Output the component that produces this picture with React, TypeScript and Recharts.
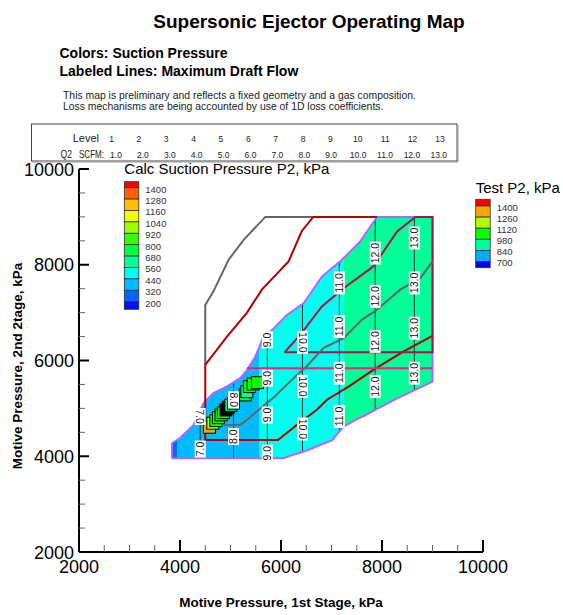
import React from "react";
import { ComposedChart, XAxis, YAxis, Area, Line, Scatter } from "recharts";

const FONT = "'Liberation Sans', Arial, Helvetica, sans-serif";

// operating region: lower / upper edge of the map at each 1st stage pressure
const regionX = [3840, 3940, 4000, 4265, 4465, 4660, 4925, 5190, 5325, 5490, 5565, 5650, 5790, 6050, 6120, 6450, 6510, 6810, 7010, 7175, 7240, 7570, 7640, 7900, 8300, 9000];
const regionLow = [3960, 3960, 3960, 3960, 3960, 3960, 3960, 3960, 3960, 3960, 3960, 3960, 3960, 3960, 3990, 4100, 4120, 4250, 4330, 4540, 4620, 4810, 4840, 4990, 5210, 5560];
const regionHigh = [4270, 4340, 4380, 4650, 5110, 5320, 5455, 5630, 5800, 6080, 6270, 6500, 6600, 6880, 6950, 7200, 7290, 7750, 7930, 8070, 8140, 8490, 8600, 9000, 9000, 9000];

// calc suction pressure bands (kPa) between these x edges
const bandEdges = [3840, 3940, 5565, 7240, 9000];
const bandP2 = [260, 380, 500, 620];

// maximum draft flow contour lines (Q2, SCFM)
const flowLevels = [7, 8, 9, 10, 11, 12, 13];
const flowX = [4400, 5060, 5730, 6425, 7155, 7865, 8640];
const flowLow = [3960, 3960, 3960, 4090, 4515, 4970, 5380];
const flowHigh = [4960, 5540, 6557, 7180, 8050, 8945, 9000];
const flowLabelY = [
  [4830, 4150],
  [5180, 4410],
  [6430, 5630, 4860, 4065],
  [6380, 5460, 4570],
  [7620, 6710, 5735, 4830],
  [8245, 7340, 6400, 5455],
  [8560, 7620, 6675, 5735],
];

// other contour lines
const grayOutlineX = [6640, 5690, 5260, 4960, 4660, 4500, 4500];
const grayOutlineY = [9000, 9000, 8520, 8100, 7440, 7160, 5910];
const redLineX = [7900, 6640, 6410, 6150, 5620, 5320, 4930, 4500, 4500, 5940, 6315, 6710, 6910, 7340, 7830, 8430, 9000];
const redLineY = [9000, 9000, 8700, 8070, 7480, 6990, 6500, 5910, 4340, 4340, 4655, 4970, 5180, 5455, 5805, 6190, 6515];
const crimsonX = [6070, 6380, 6810, 7240, 7830, 8300, 8660, 9000, 9000, 6070];
const crimsonY = [6170, 6535, 7130, 7510, 7965, 8695, 9000, 9000, 6170, 6170];
const pinkX = [5325, 9000];
const pinkY = [5840, 5840];
const grayWavyX = [4860, 5190, 5370, 5600, 5860, 6100, 6300, 6500, 6840, 7240, 7600, 7900, 8360, 8760, 9000];
const grayWavyY = [4655, 4655, 4800, 5010, 5230, 5480, 5680, 5870, 6260, 6465, 6850, 7060, 7480, 7720, 8070];

// test points
const testX = [4583, 4650, 4709, 4761, 4814, 4860, 4908, 4959, 5007, 5058, 5290, 5324, 5375, 5450, 5534];
const testY = [4606, 4690, 4744, 4807, 4863, 4911, 4968, 5024, 5066, 5108, 5281, 5350, 5455, 5511, 5538];
const testP2 = [1320, 1190, 1050, 1050, 1050, 1050, null, null, 910, 910, 1050, 910, 1050, 1050, 1050];

// legends
const calcLevels = [200, 320, 440, 560, 680, 800, 920, 1040, 1160, 1280, 1400];
const calcColors = ["#0010FF", "#0066FF", "#00BBFF", "#00FFEE", "#00FF99", "#00FF3C", "#33FF00", "#99FF00", "#EEFF00", "#FFBF00", "#FF6000", "#FF0000"];
const testLevels = [700, 840, 980, 1120, 1260, 1400];
const testColors = ["#0000FF", "#00AAFF", "#00FFA5", "#00FF00", "#B0FF00", "#FFA500", "#FF0000"];

// level table
const tableLevels = [1, 2, 3, 4, 5, 6, 7, 8, 9, 10, 11, 12, 13];
const tableQ2 = [1.0, 2.0, 3.0, 4.0, 5.0, 6.0, 7.0, 8.0, 9.0, 10.0, 11.0, 12.0, 13.0];

const axisTicks = [2000, 2500, 3000, 3500, 4000, 4500, 5000, 5500, 6000, 6500, 7000, 7500, 8000, 8500, 9000, 9500, 10000];

function levelColor(v: number | null, levels: number[], colors: string[]) {
  if (v === null) return "#000";
  let i = 0;
  while (i < levels.length && v >= levels[i]) i++;
  return colors[i];
}

const pts = (xs: number[], ys: number[]) => xs.map((x, i) => ({ x, y: ys[i] }));

const bands = bandP2.map((p, i) => ({
  color: levelColor(p, calcLevels, calcColors),
  data: regionX
    .map((x, j) => ({ x, range: [regionLow[j], regionHigh[j]] }))
    .filter((d) => d.x >= bandEdges[i] && d.x <= bandEdges[i + 1]),
}));

const outline = [
  ...regionX.map((x, j) => ({ x, y: regionLow[j] })),
  ...regionX.map((x, j) => ({ x, y: regionHigh[j] })).reverse(),
];
outline.push(outline[0]);

const testData = testX.map((x, i) => ({ x, y: testY[i], p2: testP2[i] }));

// labels drawn reading top-down (+90) or bottom-up (-90)
const upLabels = new Set(["7-0", "8-0", "10-0", "10-1", "10-2"]);
const labelData = flowLevels.flatMap((lv, i) =>
  flowLabelY[i].map((y, k) => ({
    x: flowX[i],
    y,
    text: lv.toFixed(1),
    rot: upLabels.has(`${lv}-${k}`) ? 90 : -90,
  }))
);

const XTick = (props: any) => {
  const { x, y, payload } = props;
  const major = payload.value % 2000 === 0;
  return (
    <g>
      <line x1={x} x2={x} y1={y} y2={y - (major ? 12 : 7)} stroke={major ? "#000" : "#666"} strokeWidth={major ? 2 : 1} />
      {major && (
        <text x={x} y={y + 20.5} textAnchor="middle" fontSize={18} fontFamily={FONT} fill="#000">
          {payload.value}
        </text>
      )}
    </g>
  );
};

const YTick = (props: any) => {
  const { x, y, payload } = props;
  const major = payload.value % 2000 === 0;
  return (
    <g>
      <line x1={x} x2={x + (major ? 10 : 6)} y1={y} y2={y} stroke={major ? "#000" : "#666"} strokeWidth={major ? 2 : 1} />
      {major && (
        <text x={x - 5} y={y + 6.5} textAnchor="end" fontSize={18} fontFamily={FONT} fill="#000">
          {payload.value}
        </text>
      )}
    </g>
  );
};

const TestSquare = (props: any) => {
  const { cx, cy, payload } = props;
  return (
    <rect x={cx - 6} y={cy - 6} width={12} height={12} fill={levelColor(payload.p2, testLevels, testColors)} stroke="#000" strokeWidth={1} />
  );
};

const FlowLabel = (props: any) => {
  const { cx, cy, payload } = props;
  const len = payload.text.length > 3 ? 23 : 17;
  return (
    <g transform={`translate(${cx},${cy}) rotate(${payload.rot})`}>
      <rect x={-len / 2} y={-5.5} width={len} height={11} fill="#fff" />
      <text x={0} y={3.8} textAnchor="middle" fontSize={10.5} fontFamily={FONT} fill="#111">
        {payload.text}
      </text>
    </g>
  );
};

const Legend = ({ x, top, first, step, last, levels, colors, title, titleY }: any) => {
  const n = colors.length;
  const edges: number[] = [top];
  edges.push(top + first);
  for (let i = 1; i < n - 1; i++) edges.push(top + first + i * step);
  edges.push(edges[edges.length - 1] + last);
  return (
    <g fontFamily={FONT}>
      <text x={x} y={titleY} fontSize={15} fill="#000">{title}</text>
      {colors
        .slice()
        .reverse()
        .map((c: string, i: number) => (
          <rect key={i} x={x} y={edges[i]} width={14.5} height={edges[i + 1] - edges[i]} fill={c} stroke="#333" strokeWidth={0.8} />
        ))}
      {levels
        .slice()
        .reverse()
        .map((lv: number, i: number) => (
          <text key={lv} x={x + 21} y={edges[i + 1] + 4.8} fontSize={9.5} fill="#333">
            {lv}
          </text>
        ))}
    </g>
  );
};

export default function App() {
  return (
    <div style={{ position: "absolute", left: 0, top: 0, width: 563, height: 615, background: "#fff" }}>
      <ComposedChart width={563} height={615} margin={{ top: 169, right: 80, bottom: 0, left: 0 }}>
        <XAxis
          type="number"
          dataKey="x"
          domain={[2000, 10000]}
          ticks={axisTicks}
          interval={0}
          allowDataOverflow
          height={63}
          tickLine={false}
          tickSize={0}
          tickMargin={0}
          axisLine={{ stroke: "#000", strokeWidth: 2 }}
          tick={<XTick />}
        />
        <YAxis
          type="number"
          dataKey="y"
          domain={[2000, 10000]}
          ticks={axisTicks}
          interval={0}
          allowDataOverflow
          width={79}
          tickLine={false}
          tickSize={0}
          tickMargin={0}
          axisLine={{ stroke: "#000", strokeWidth: 2 }}
          tick={<YTick />}
        />
        {bands.map((b, i) => (
          <Area key={`band${i}`} data={b.data} dataKey="range" type="linear" fill={b.color} fillOpacity={1} stroke={b.color} strokeWidth={0.5} isAnimationActive={false} />
        ))}
        {flowLevels.map((lv, i) => (
          <Line
            key={`flow${lv}`}
            data={[{ x: flowX[i], y: flowLow[i] }, { x: flowX[i], y: flowHigh[i] }]}
            dataKey="y"
            type="linear"
            stroke="#1c3030"
            strokeWidth={1}
            dot={false}
            isAnimationActive={false}
          />
        ))}
        <Line data={outline} dataKey="y" type="linear" stroke="#B066FF" strokeWidth={2} dot={false} isAnimationActive={false} />
        <Line data={pts(grayOutlineX, grayOutlineY)} dataKey="y" type="linear" stroke="#666" strokeWidth={2} dot={false} isAnimationActive={false} />
        <Line data={pts(redLineX, redLineY)} dataKey="y" type="linear" stroke="#B00000" strokeWidth={2} dot={false} isAnimationActive={false} />
        <Line data={pts(crimsonX, crimsonY)} dataKey="y" type="linear" stroke="#B0104A" strokeWidth={2} dot={false} isAnimationActive={false} />
        <Line data={pts(pinkX, pinkY)} dataKey="y" type="linear" stroke="#FF1A80" strokeWidth={2} dot={false} isAnimationActive={false} />
        <Line data={pts(grayWavyX, grayWavyY)} dataKey="y" type="linear" stroke="#666" strokeWidth={2} dot={false} isAnimationActive={false} />
        <Scatter data={testData} dataKey="y" shape={<TestSquare />} isAnimationActive={false} />
        <Scatter data={labelData} dataKey="y" shape={<FlowLabel />} isAnimationActive={false} />
      </ComposedChart>

      <svg width={563} height={615} style={{ position: "absolute", left: 0, top: 0, pointerEvents: "none" }}>
        <g fontFamily={FONT} fill="#000">
          <text x={309} y={28} textAnchor="middle" fontSize={19} fontWeight="bold">
            Supersonic Ejector Operating Map
          </text>
          <text x={59.5} y={57.5} fontSize={14} fontWeight="bold">Colors: Suction Pressure</text>
          <text x={59.5} y={75.5} fontSize={14} fontWeight="bold">Labeled Lines: Maximum Draft Flow</text>
          <text x={63} y={98.5} fontSize={10.4} fill="#222">
            This map is preliminary and reflects a fixed geometry and a gas composition.
          </text>
          <text x={63} y={109.5} fontSize={10.4} fill="#222">
            Loss mechanisms are being accounted by use of 1D loss coefficients.
          </text>

          <rect x={31.5} y={124} width={425.5} height={37} fill="none" stroke="#444" strokeWidth={1} />
          <line x1={32} x2={458} y1={162} y2={162} stroke="#999" strokeWidth={1} />
          <line x1={458} x2={458} y1={125} y2={162} stroke="#999" strokeWidth={1} />
          <text x={99} y={142} textAnchor="end" fontSize={11} fill="#222">Level</text>
          <text x={60.5} y={158} fontSize={10.5} fill="#222" textLength={11.5} lengthAdjust="spacingAndGlyphs">Q2</text>
          <text x={79} y={158} fontSize={10.5} fill="#222" textLength={25} lengthAdjust="spacingAndGlyphs">SCFM:</text>
          {tableLevels.map((lv, i) => (
            <text key={`lv${lv}`} x={111.5 + i * 27.37} y={142} textAnchor="middle" fontSize={8.5} fill="#222">
              {lv}
            </text>
          ))}
          {tableQ2.map((q, i) => (
            <text key={`q${i}`} x={116 + i * 26.9} y={158} textAnchor="middle" fontSize={8.5} fill="#222">
              {q.toFixed(1)}
            </text>
          ))}

          <Legend x={124.3} top={181.7} first={6} step={11.4} last={7.6} levels={calcLevels} colors={calcColors} title="Calc Suction Pressure P2, kPa" titleY={174} />
          <Legend x={475.7} top={199.3} first={6.7} step={11.1} last={6.2} levels={testLevels} colors={testColors} title="Test P2, kPa" titleY={193.4} />

          <text x={281} y={606.5} textAnchor="middle" fontSize={13.5} fontWeight="bold">
            Motive Pressure, 1st Stage, kPa
          </text>
          <text x={0} y={0} transform="translate(22,366) rotate(-90)" textAnchor="middle" fontSize={13.5} fontWeight="bold">
            Motive Pressure, 2nd 2tage, kPa
          </text>
        </g>
      </svg>
    </div>
  );
}
